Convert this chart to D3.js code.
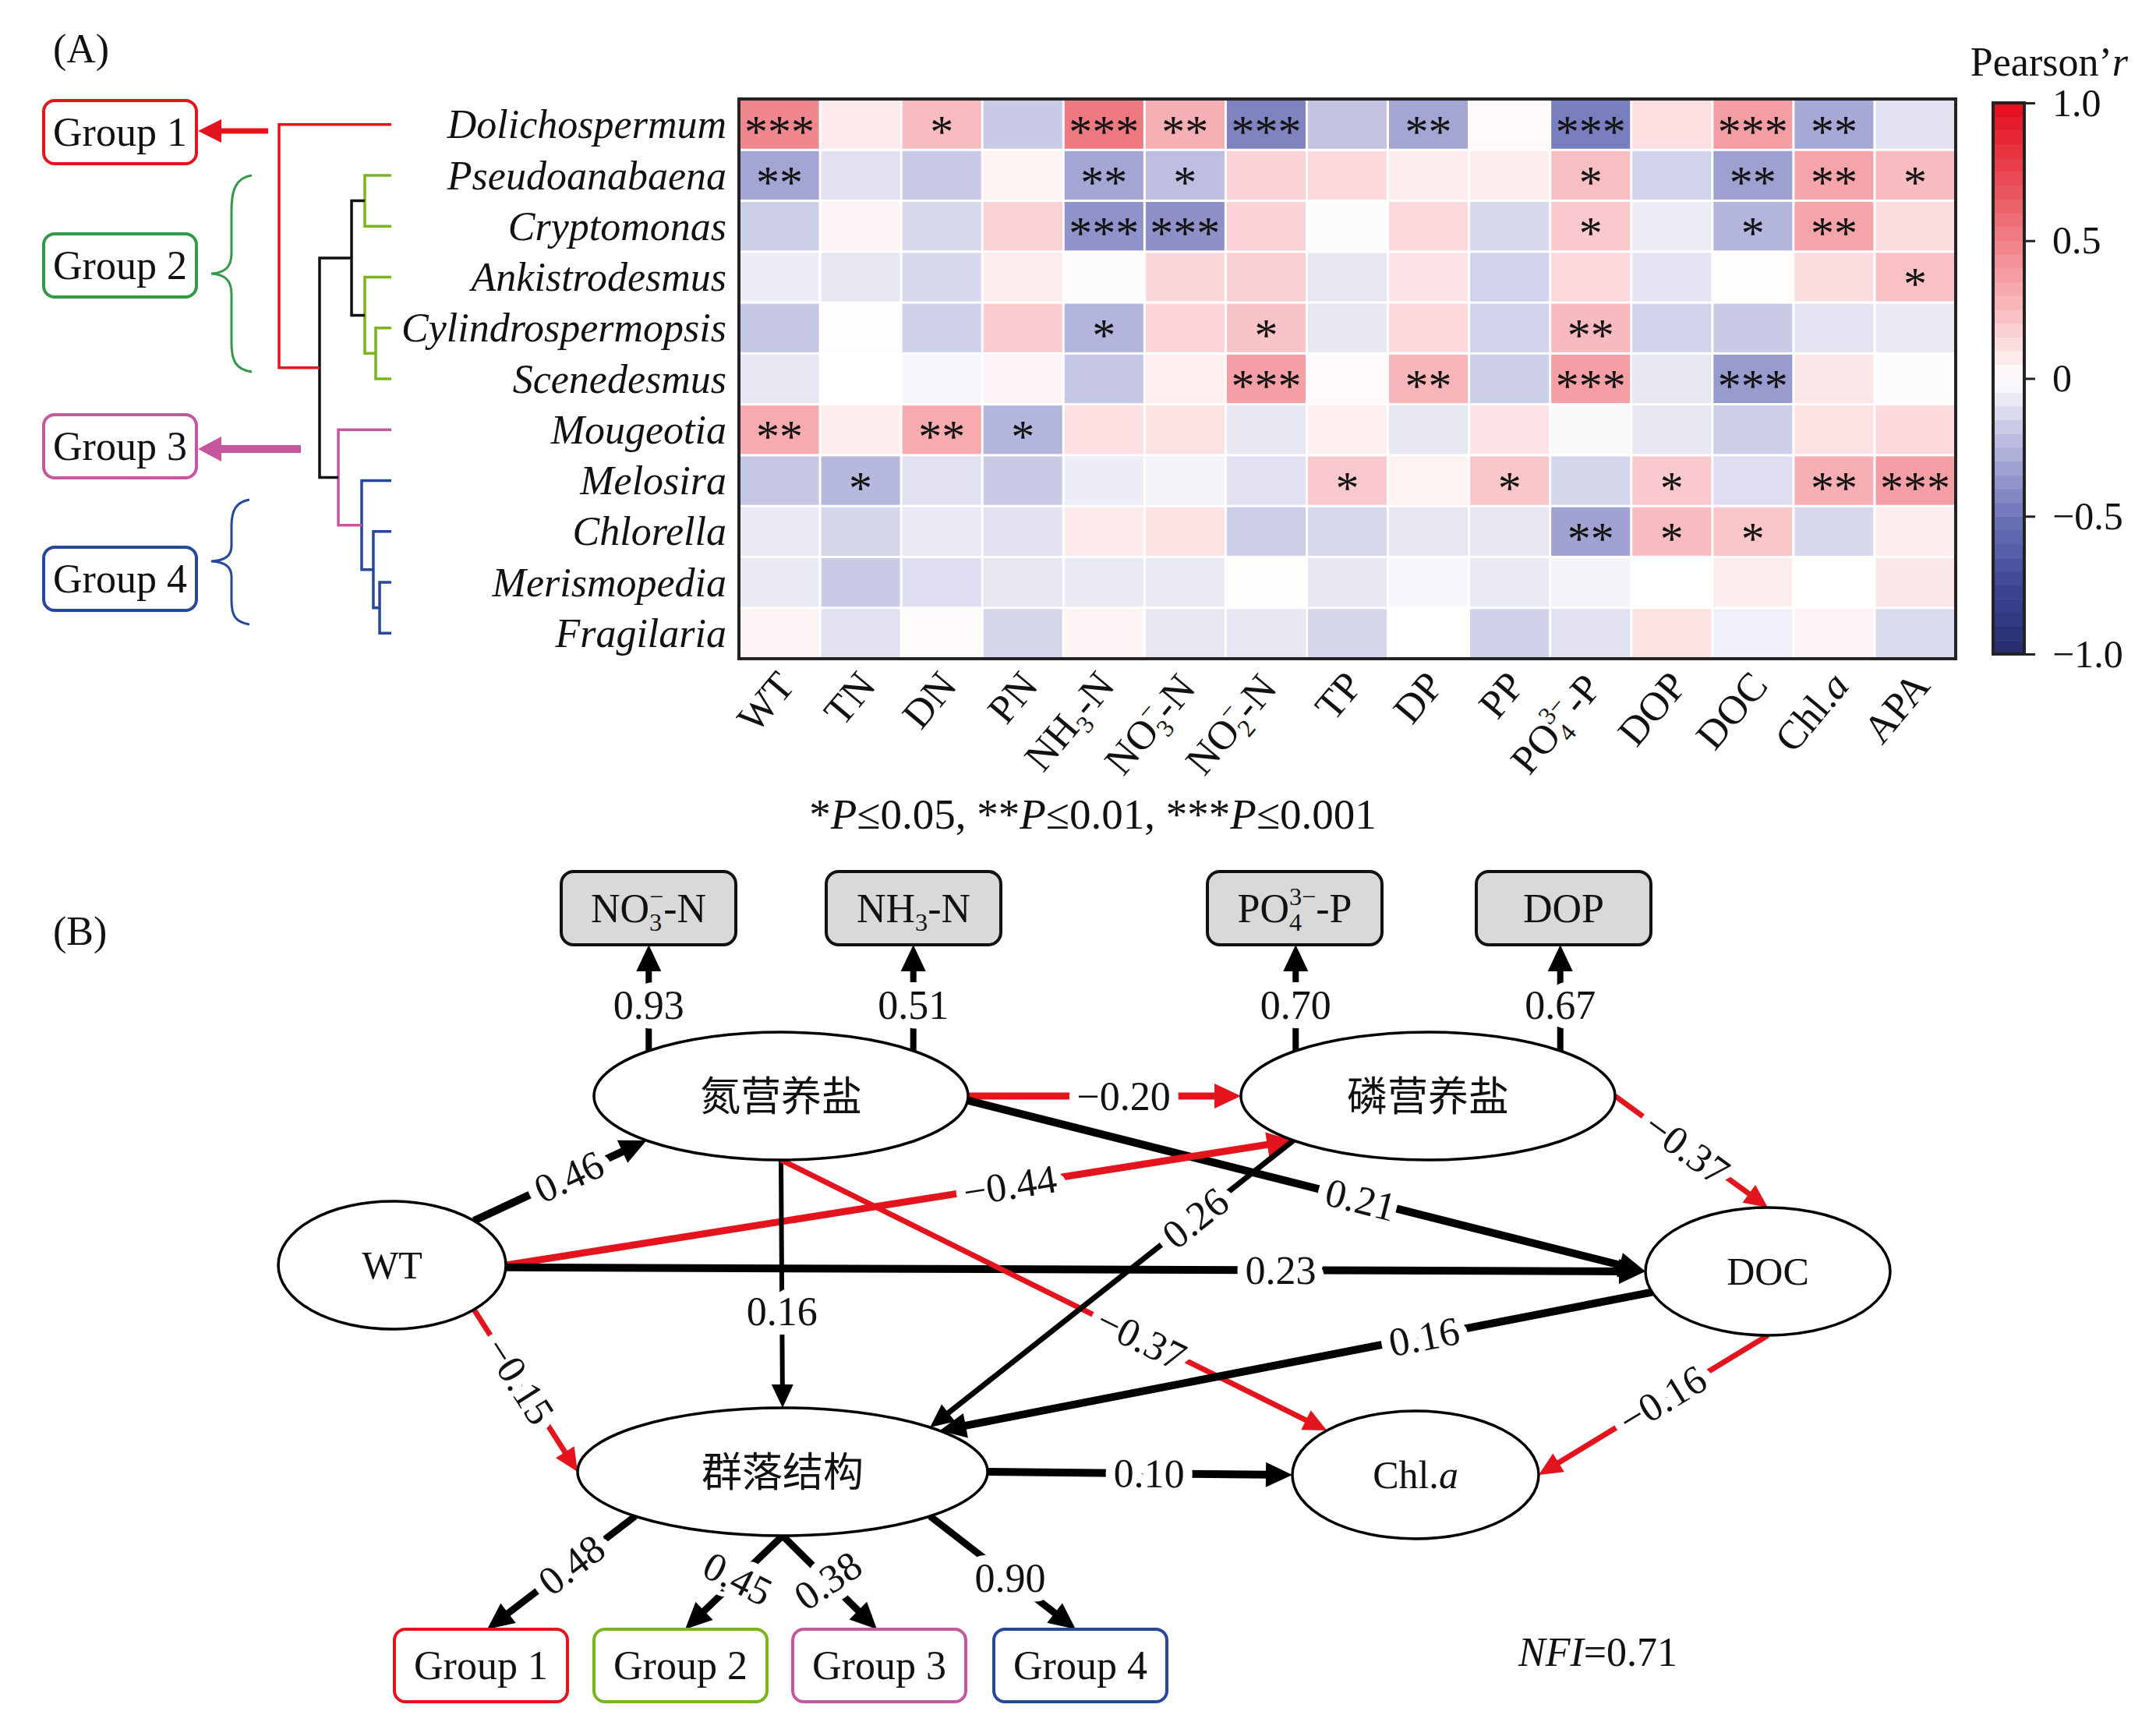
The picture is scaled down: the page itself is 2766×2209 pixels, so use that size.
<!DOCTYPE html>
<html>
<head>
<meta charset="utf-8">
<script src="https://cdn.jsdelivr.net/npm/d3@7"></script>
<style>
body { margin: 0; background: #fff; }
text { font-family: "Liberation Serif", "Times New Roman", serif; fill: #111; }
</style>
</head>
<body>
<svg id="fig" width="2766" height="2209"></svg>
<script>
// ---------- data : (A) correlation heatmap ----------
const species = ['Dolichospermum', 'Pseudoanabaena', 'Cryptomonas', 'Ankistrodesmus', 'Cylindrospermopsis',
  'Scenedesmus', 'Mougeotia', 'Melosira', 'Chlorella', 'Merismopedia', 'Fragilaria'];
const variables = ['WT', 'TN', 'DN', 'PN', 'NH3-N', 'NO3-N', 'NO2-N', 'TP', 'DP', 'PP', 'PO4-P', 'DOP', 'DOC', 'Chl.a', 'APA'];
const pearsonR = [
  [0.47, 0.08, 0.25, -0.18, 0.53, 0.30, -0.44, -0.20, -0.31, 0.02, -0.46, 0.12, 0.38, -0.30, -0.10],
  [-0.31, -0.10, -0.18, 0.05, -0.31, -0.22, 0.17, 0.14, 0.07, 0.07, 0.24, -0.15, -0.33, 0.35, 0.25],
  [-0.17, 0.04, -0.13, 0.17, -0.38, -0.39, 0.17, -0.01, 0.14, -0.13, 0.20, -0.06, -0.25, 0.35, 0.13],
  [-0.06, -0.08, -0.13, 0.07, -0.01, 0.15, 0.18, -0.08, 0.10, -0.15, 0.14, -0.09, 0.01, 0.13, 0.23],
  [-0.19, 0.01, -0.16, 0.19, -0.25, 0.16, 0.22, -0.08, 0.14, -0.15, 0.26, -0.15, -0.18, -0.09, -0.07],
  [-0.08, 0.00, -0.03, 0.04, -0.19, 0.06, 0.37, 0.02, 0.28, -0.17, 0.37, -0.08, -0.35, 0.09, -0.01],
  [0.32, 0.07, 0.32, -0.25, 0.12, 0.11, -0.08, 0.06, -0.08, 0.10, -0.02, -0.08, -0.17, 0.11, 0.14],
  [-0.19, -0.24, -0.10, -0.18, -0.06, -0.04, -0.10, 0.20, 0.05, 0.21, -0.14, 0.20, -0.11, 0.30, 0.37],
  [-0.07, -0.14, -0.07, -0.10, 0.08, 0.11, -0.17, -0.13, -0.08, -0.08, -0.32, 0.25, 0.21, -0.13, 0.07],
  [-0.07, -0.18, -0.11, -0.08, -0.07, -0.07, 0.01, -0.08, -0.03, -0.07, -0.04, 0.00, 0.07, 0.00, 0.09],
  [0.04, -0.10, 0.02, -0.14, 0.04, -0.08, -0.08, -0.14, 0.00, -0.16, -0.10, 0.11, -0.05, 0.04, -0.12]
];
// number of stars (significance level) per cell
const sigStars = [
  [3, 0, 1, 0, 3, 2, 3, 0, 2, 0, 3, 0, 3, 2, 0],
  [2, 0, 0, 0, 2, 1, 0, 0, 0, 0, 1, 0, 2, 2, 1],
  [0, 0, 0, 0, 3, 3, 0, 0, 0, 0, 1, 0, 1, 2, 0],
  [0, 0, 0, 0, 0, 0, 0, 0, 0, 0, 0, 0, 0, 0, 1],
  [0, 0, 0, 0, 1, 0, 1, 0, 0, 0, 2, 0, 0, 0, 0],
  [0, 0, 0, 0, 0, 0, 3, 0, 2, 0, 3, 0, 3, 0, 0],
  [2, 0, 2, 1, 0, 0, 0, 0, 0, 0, 0, 0, 0, 0, 0],
  [0, 1, 0, 0, 0, 0, 0, 1, 0, 1, 0, 1, 0, 2, 3],
  [0, 0, 0, 0, 0, 0, 0, 0, 0, 0, 2, 1, 1, 0, 0],
  [0, 0, 0, 0, 0, 0, 0, 0, 0, 0, 0, 0, 0, 0, 0],
  [0, 0, 0, 0, 0, 0, 0, 0, 0, 0, 0, 0, 0, 0, 0]
];
const colorTicks = [-1, -0.5, 0, 0.5, 1];

// dendrogram merges (leaf ids 0..10, merge k gets id 11+k)
const mergeLeft = [1, 4, 3, 11, 9, 8, 7, 6, 14, 0];
const mergeRight = [2, 5, 12, 13, 10, 15, 16, 17, 18, 19];
const mergeHeight = [2.36, 1.39, 2.36, 3.54, 1.04, 1.6, 2.64, 4.72, 6.39, 10];
const mergeGroup = ['g2', 'g2', 'g2', 'k', 'g4', 'g4', 'g4', 'g3', 'k', 'g1'];
const groupNames = ['Group 1', 'Group 2', 'Group 3', 'Group 4'];

// ---------- data : (B) structural equation model ----------
const pathFrom = ['WT', 'N', 'P', 'N', 'WT', 'WT', 'N', 'N', 'P', 'DOC', 'C', 'DOC', 'WT'];
const pathTo = ['N', 'P', 'DOC', 'DOC', 'P', 'DOC', 'C', 'Chl', 'C', 'C', 'Chl', 'Chl', 'C'];
const pathCoef = [0.46, -0.20, -0.37, 0.21, -0.44, 0.23, 0.16, -0.37, 0.26, 0.16, 0.10, -0.16, -0.15];
const indicatorNames = ['NO3-N', 'NH3-N', 'PO4-P', 'DOP'];
const indicatorLatent = ['N', 'N', 'P', 'P'];
const indicatorLoading = [0.93, 0.51, 0.70, 0.67];
const groupLoading = [0.48, 0.45, 0.38, 0.90];
const nfiValue = 0.71;

// ---------- styling / layout ----------
const RED = '#e3141d', GREEN = '#7ab51d', GREEN2 = '#33994a', MAG = '#c4579e', BLUE = '#26479a';
const groupColor = { g1: RED, g2: GREEN, g3: MAG, g4: BLUE, k: '#111' };

const svg = d3.select('#fig');
svg.append('rect').attr('width', 2766).attr('height', 2209).attr('fill', '#fff');

const cmap = d3.scaleLinear()
  .domain([-1, -0.75, -0.5, -0.25, 0, 0.25, 0.5, 0.75, 1])
  .range(['#252b6b', '#3f4596', '#6e74b8', '#b4b5dc', '#ffffff', '#f8bcc0', '#f08087', '#e8444f', '#e30b1c'])
  .clamp(true);

// rich text with sub / superscripts
function rich(text, parts, fs) {
  let cur = 0, lastSubW = 0;
  parts.forEach(p => {
    const ts = text.append('tspan').text(p.t);
    let target = 0;
    if (p.k === 'i') ts.attr('font-style', 'italic');
    if (p.k === 'b') { ts.attr('font-size', fs * 0.62); target = fs * 0.22; lastSubW = p.t.length * fs * 0.31; }
    if (p.k === 'p') {
      ts.attr('font-size', fs * 0.62); target = -fs * 0.42;
      if (p.back) ts.attr('dx', -lastSubW);
    }
    ts.attr('dy', target - cur);
    cur = target;
  });
}
function labelParts(name) {
  const m = {
    'NH3-N': [{ t: 'NH' }, { t: '3', k: 'b' }, { t: '-N' }],
    'NO3-N': [{ t: 'NO' }, { t: '3', k: 'b' }, { t: '−', k: 'p', back: true }, { t: '-N' }],
    'NO2-N': [{ t: 'NO' }, { t: '2', k: 'b' }, { t: '−', k: 'p', back: true }, { t: '-N' }],
    'PO4-P': [{ t: 'PO' }, { t: '4', k: 'b' }, { t: '3−', k: 'p', back: true }, { t: '-P' }],
    'Chl.a': [{ t: 'Chl.' }, { t: 'a', k: 'i' }]
  };
  return m[name] || [{ t: name }];
}
function arrow(g, x1, y1, x2, y2, color, w, len, half) {
  const L = Math.hypot(x2 - x1, y2 - y1), ux = (x2 - x1) / L, uy = (y2 - y1) / L;
  g.append('line').attr('x1', x1).attr('y1', y1)
    .attr('x2', x2 - ux * len * 0.75).attr('y2', y2 - uy * len * 0.75)
    .attr('stroke', color).attr('stroke-width', w);
  const bx = x2 - ux * len, by = y2 - uy * len;
  g.append('path')
    .attr('d', `M${x2},${y2}L${bx - uy * half},${by + ux * half}L${bx + uy * half},${by - ux * half}Z`)
    .attr('fill', color);
}

// ================= (A) =================
const A = svg.append('g');
A.append('text').attr('x', 68).attr('y', 80).attr('font-size', 52).text('(A)');

const hx = d3.scaleBand().domain(variables).range([948, 2509]);
const hy = d3.scaleBand().domain(species).range([127, 845]);
const bw = hx.bandwidth(), bh = hy.bandwidth();

const cells = [];
species.forEach((s, i) => variables.forEach((v, j) =>
  cells.push({ s, v, r: pearsonR[i][j], n: sigStars[i][j] })));

A.append('g').selectAll('rect').data(cells).join('rect')
  .attr('x', d => hx(d.v) + 1.5).attr('y', d => hy(d.s) + 1.5)
  .attr('width', bw - 3).attr('height', bh - 3)
  .attr('fill', d => cmap(d.r));
A.append('g').selectAll('text').data(cells.filter(d => d.n > 0)).join('text')
  .attr('x', d => hx(d.v) + bw / 2).attr('y', d => hy(d.s) + bh / 2 + 29)
  .attr('text-anchor', 'middle').attr('font-size', 60)
  .text(d => '*'.repeat(d.n));
A.append('rect').attr('x', 948).attr('y', 127).attr('width', 2509 - 948).attr('height', 845 - 127)
  .attr('fill', 'none').attr('stroke', '#222').attr('stroke-width', 4);

// row labels
A.append('g').selectAll('text').data(species).join('text')
  .attr('x', 932).attr('y', d => hy(d) + bh / 2).attr('dy', '0.34em')
  .attr('text-anchor', 'end').attr('font-style', 'italic').attr('font-size', 52)
  .text(d => d);

// column labels, rotated, right/top aligned under each column
variables.forEach(v => {
  const g = A.append('g');
  const t = g.append('text').attr('text-anchor', 'end').attr('font-size', 52)
    .attr('transform', 'rotate(-50)');
  rich(t, labelParts(v), 52);
  const bb = g.node().getBBox();
  g.attr('transform', `translate(${hx(v) + bw / 2 + 30 - (bb.x + bb.width)},${845 + 6 - bb.y})`);
});

// significance note
const note = A.append('text').attr('x', 1402).attr('y', 1063).attr('text-anchor', 'middle').attr('font-size', 55);
rich(note, [{ t: '*' }, { t: 'P', k: 'i' }, { t: '≤0.05, **' }, { t: 'P', k: 'i' }, { t: '≤0.01, ***' },
  { t: 'P', k: 'i' }, { t: '≤0.001' }], 55);

// colour bar
const cy = d3.scaleLinear().domain([-1, 1]).range([839, 132]);
const steps = d3.range(-1, 0.999, 0.05);
A.append('g').selectAll('rect').data(steps).join('rect')
  .attr('x', 2557).attr('width', 40)
  .attr('y', d => cy(d + 0.05)).attr('height', d => cy(d) - cy(d + 0.05) + 0.5)
  .attr('fill', d => cmap(d + 0.025));
A.append('rect').attr('x', 2557).attr('y', 132).attr('width', 40).attr('height', 707)
  .attr('fill', 'none').attr('stroke', '#222').attr('stroke-width', 4);
const cax = A.append('g').attr('transform', 'translate(2597,0)')
  .call(d3.axisRight(cy).tickValues(colorTicks).tickSize(14).tickPadding(22)
    .tickFormat(v => v === 0 ? '0' : d3.format('.1f')(v)));
cax.select('.domain').remove();
cax.selectAll('line').attr('stroke', '#222').attr('stroke-width', 3);
cax.selectAll('text').attr('font-family', '"Liberation Serif", serif').attr('font-size', 50).attr('fill', '#111');
const ptitle = A.append('text').attr('x', 2730).attr('y', 97).attr('text-anchor', 'end').attr('font-size', 52);
rich(ptitle, [{ t: 'Pearson’' }, { t: 'r', k: 'i' }], 52);

// dendrogram
const dx = d3.scaleLinear().domain([0, 10]).range([502, 358]);
const nX = [], nY = [];
species.forEach((s, i) => { nX[i] = dx(0); nY[i] = hy(s) + bh / 2; });
mergeLeft.forEach((l, k) => {
  const r = mergeRight[k], id = species.length + k;
  nX[id] = dx(mergeHeight[k]); nY[id] = (nY[l] + nY[r]) / 2;
});
A.append('g').selectAll('path').data(mergeLeft).join('path')
  .attr('d', (l, k) => {
    const r = mergeRight[k], id = species.length + k;
    return `M${nX[l]},${nY[l]}H${nX[id]}V${nY[r]}H${nX[r]}`;
  })
  .attr('fill', 'none').attr('stroke-width', 3.5)
  .attr('stroke', (l, k) => groupColor[mergeGroup[k]]);

// group boxes and markers
const gBoxY = [129, 300, 532, 702];
const gBoxCol = [RED, GREEN2, MAG, BLUE];
groupNames.forEach((name, i) => {
  A.append('rect').attr('x', 56).attr('y', gBoxY[i]).attr('width', 196).attr('height', 81).attr('rx', 14)
    .attr('fill', '#fff').attr('stroke', gBoxCol[i]).attr('stroke-width', 4);
  A.append('text').attr('x', 154).attr('y', gBoxY[i] + 58).attr('text-anchor', 'middle')
    .attr('font-size', 52).text(name);
});
arrow(A, 344, gBoxY[0] + 39, 254, gBoxY[0] + 39, RED, 7, 30, 15);
arrow(A, 386, gBoxY[2] + 44, 254, gBoxY[2] + 44, MAG, 10, 30, 16);
A.append('path').attr('fill', 'none').attr('stroke', GREEN2).attr('stroke-width', 3)
  .attr('d', 'M323,225C302,228 297,245 297,270L297,325C297,342 289,350 271,351C289,352 297,360 297,377L297,440C297,462 302,474 323,477');
A.append('path').attr('fill', 'none').attr('stroke', BLUE).attr('stroke-width', 3)
  .attr('d', 'M320,641C302,644 297,656 297,675L297,700C297,713 289,719 271,720C289,721 297,727 297,740L297,770C297,790 302,798 320,801');

// ================= (B) =================
const B = svg.append('g');
B.append('text').attr('x', 68).attr('y', 1212).attr('font-size', 52).text('(B)');

const node = {
  WT: { cx: 503, cy: 1623, rx: 146, ry: 82, parts: [{ t: 'WT' }] },
  N: { cx: 1002, cy: 1406, rx: 240, ry: 82, parts: [{ t: '氮营养盐' }], cjk: true },
  P: { cx: 1832, cy: 1406, rx: 240, ry: 82, parts: [{ t: '磷营养盐' }], cjk: true },
  DOC: { cx: 2268, cy: 1631, rx: 157, ry: 82, parts: [{ t: 'DOC' }] },
  C: { cx: 1004, cy: 1888, rx: 263, ry: 82, parts: [{ t: '群落结构' }], cjk: true },
  Chl: { cx: 1816, cy: 1892, rx: 158, ry: 82, parts: [{ t: 'Chl.' }, { t: 'a', k: 'i' }] }
};
const onEllipse = (n, a) => {
  const r = a * Math.PI / 180;
  return [n.cx + n.rx * Math.cos(r), n.cy + n.ry * Math.sin(r)];
};
// per-path geometry: start angle, end angle, stroke width, label position, label rotation
const pathGeom = [
  [-44, 136, 10, 0.55, 'along'], [0, 180, 9, 0.57, 'along'], [0, -90, 7, 0.47, 'along'],
  [4, 180, 10, 0.58, 'along'], [0, 136, 9, 0.64, 'along'], [2, 180, 10, 0.68, 'along'],
  [90, -90, 6, 0.61, 0], [90, -136, 7, 0.66, 'along'], [136, -44, 7, 0.27, 'along'],
  [161, -40, 10, 0.32, 'along'], [0, 180, 10, 0.53, 'along'], [90, 0, 7, 0.46, 'along'],
  [44, 180, 7, 0.44, 'along']
];
const fmt = d3.format('.2f');
const edges = [];
pathFrom.forEach((f, i) => {
  const g = pathGeom[i];
  const [x1, y1] = onEllipse(node[f], g[0]);
  const [x2, y2] = onEllipse(node[pathTo[i]], g[1]);
  edges.push({ x1, y1, x2, y2, w: g[2], t: g[3], rot: g[4], v: pathCoef[i] });
});

// indicators
const indBoxX = [832, 1172, 1661, 2006];
indicatorNames.forEach((name, i) => {
  const [x1, y1] = onEllipse(node[indicatorLatent[i]], i % 2 === 0 ? -135 : -45);
  edges.push({ x1, y1, x2: x1, y2: 1212, w: 8, t: 0.43, rot: 0, v: indicatorLoading[i] });
});
// groups
const gbX = [617, 873, 1128, 1386];
const gStart = [136, 90, 90, 44];
const gRot = ['along', 27, -34, 0];
const gT = [0.43, 0.46, 0.48, 0.55];
groupLoading.forEach((v, i) => {
  const [x1, y1] = onEllipse(node.C, gStart[i]);
  edges.push({ x1, y1, x2: gbX[i] + [8, 6, -3, -6][i], y2: 2090, w: 9, t: gT[i], rot: gRot[i], v });
});

const E = B.append('g');
edges.forEach(e => {
  const col = e.v < 0 ? RED : '#000';
  const big = e.w >= 8;
  arrow(E, e.x1, e.y1, e.x2, e.y2, col, e.w, big ? 34 : 30, big ? 16 : 14);
});

// boxes for indicators
indicatorNames.forEach((name, i) => {
  B.append('rect').attr('x', indBoxX[i] - 112).attr('y', 1118).attr('width', 224).attr('height', 94).attr('rx', 16)
    .attr('fill', '#d9d9d9').attr('stroke', '#111').attr('stroke-width', 4);
  const t = B.append('text').attr('x', indBoxX[i]).attr('y', 1183).attr('text-anchor', 'middle').attr('font-size', 52);
  rich(t, labelParts(name), 52);
});
// group boxes
groupNames.forEach((name, i) => {
  B.append('rect').attr('x', gbX[i] - 111).attr('y', 2090).attr('width', 222).attr('height', 93).attr('rx', 14)
    .attr('fill', '#fff').attr('stroke', [RED, GREEN, MAG, BLUE][i]).attr('stroke-width', 4);
  B.append('text').attr('x', gbX[i]).attr('y', 2154).attr('text-anchor', 'middle').attr('font-size', 52).text(name);
});
// ellipses
Object.values(node).forEach(n => {
  B.append('ellipse').attr('cx', n.cx).attr('cy', n.cy).attr('rx', n.rx).attr('ry', n.ry)
    .attr('fill', '#fff').attr('stroke', '#000').attr('stroke-width', 3.5);
  const t = B.append('text').attr('x', n.cx).attr('y', n.cy + (n.cjk ? 19 : 17)).attr('text-anchor', 'middle')
    .attr('font-size', n.cjk ? 52 : 50);
  if (n.cjk) t.style('font-family', '"Noto Sans CJK SC", sans-serif').attr('fill', '#222');
  rich(t, n.parts, 50);
});
// coefficient labels with white halo to break the line
edges.forEach(e => {
  const x = e.x1 + (e.x2 - e.x1) * e.t, y = e.y1 + (e.y2 - e.y1) * e.t;
  let ang = e.rot;
  if (ang === 'along') {
    ang = Math.atan2(e.y2 - e.y1, e.x2 - e.x1) * 180 / Math.PI;
    if (ang > 90) ang -= 180;
    if (ang < -90) ang += 180;
  }
  B.append('text').attr('transform', `translate(${x},${y}) rotate(${ang})`)
    .attr('text-anchor', 'middle').attr('dy', '0.34em').attr('font-size', 52)
    .attr('fill', e.v < 0 ? RED : '#111')
    .attr('stroke', '#fff').attr('stroke-width', 24).attr('stroke-linejoin', 'round')
    .attr('paint-order', 'stroke')
    .text(fmt(e.v));
});
const nfi = B.append('text').attr('x', 2050).attr('y', 2137).attr('text-anchor', 'middle').attr('font-size', 52);
rich(nfi, [{ t: 'NFI', k: 'i' }, { t: '=' + fmt(nfiValue) }], 52);
</script>
</body>
</html>
